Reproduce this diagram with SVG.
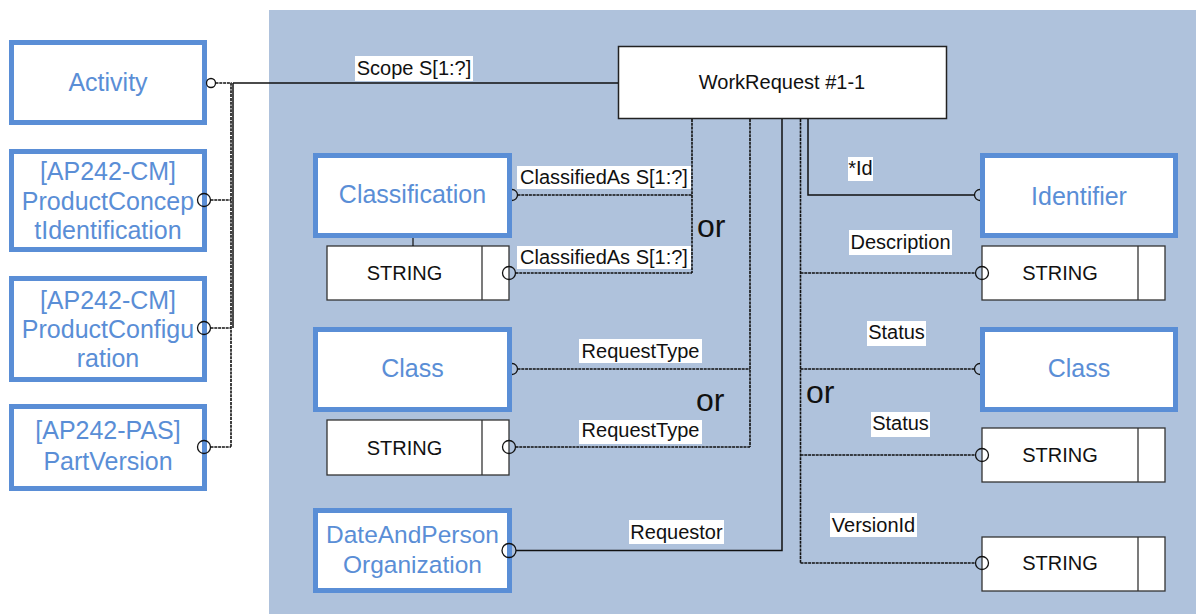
<svg xmlns="http://www.w3.org/2000/svg" width="1196" height="614" viewBox="0 0 1196 614">
<style>
.bg{fill:#afc2dc}
.ent{fill:#fff;stroke:#5a8ed6;stroke-width:5}
.wr{fill:#fff;stroke:#222;stroke-width:1.5}
.str{fill:#fff;stroke:#333;stroke-width:1.3}
.bt{font-family:"Liberation Sans",Arial,sans-serif;font-size:25px;fill:#5a8ed6;text-anchor:middle}
.kt{font-family:"Liberation Sans",Arial,sans-serif;font-size:20px;fill:#111;text-anchor:middle}
.ort{font-family:"Liberation Sans",Arial,sans-serif;font-size:32px;fill:#111}
.lb{fill:#fff}
.sol{fill:none;stroke:#111;stroke-width:1.5}
.dsh{fill:none;stroke:#111;stroke-width:1.6;stroke-dasharray:3 0.8}
.cir{fill:none;stroke:#111;stroke-width:1.3}
</style>
<rect class="bg" x="269" y="10" width="927" height="604"/>

<g id="activity"><rect class="ent" x="11.5" y="42.5" width="193" height="80"/><text class="bt" x="108" y="91">Activity</text></g>
<g id="pci"><rect class="ent" x="11.5" y="151.5" width="193" height="98"/><text class="bt" x="108" y="180">[AP242-CM]</text><text class="bt" x="108" y="209.5">ProductConcep</text><text class="bt" x="108" y="239">tIdentification</text></g>
<g id="pconf"><rect class="ent" x="11.5" y="278.5" width="193" height="101"/><text class="bt" x="108" y="309">[AP242-CM]</text><text class="bt" x="108" y="338">ProductConfigu</text><text class="bt" x="108" y="367">ration</text></g>
<g id="partversion"><rect class="ent" x="11.5" y="406.5" width="193" height="82"/><text class="bt" x="108" y="439">[AP242-PAS]</text><text class="bt" x="108" y="470">PartVersion</text></g>

<g id="workrequest"><rect class="wr" x="618.5" y="46.5" width="328" height="72"/><text class="kt" x="782" y="89">WorkRequest #1-1</text></g>

<g id="classification"><rect class="ent" x="315.5" y="155.5" width="194" height="80"/><text class="bt" x="412.5" y="203">Classification</text></g>
<g id="string-cls"><rect class="str" x="327" y="246" width="182" height="54"/><line class="str" x1="482" y1="246" x2="482" y2="300"/><text class="kt" x="404.5" y="280">STRING</text></g>
<g id="class-left"><rect class="ent" x="315.5" y="329.5" width="194" height="80"/><text class="bt" x="412.5" y="377">Class</text></g>
<g id="string-rt"><rect class="str" x="327" y="420" width="182" height="55"/><line class="str" x1="482" y1="420" x2="482" y2="475"/><text class="kt" x="404.5" y="455">STRING</text></g>
<g id="dapo"><rect class="ent" x="315.5" y="510.5" width="194" height="80"/><text class="bt" x="412.5" y="543" style="font-size:24.5px">DateAndPerson</text><text class="bt" x="412.5" y="573" style="font-size:24.5px">Organization</text></g>

<g id="identifier"><rect class="ent" x="982.5" y="155.5" width="193" height="80"/><text class="bt" x="1079" y="205">Identifier</text></g>
<g id="string-desc"><rect class="str" x="982" y="246" width="183" height="54"/><line class="str" x1="1138" y1="246" x2="1138" y2="300"/><text class="kt" x="1060" y="280">STRING</text></g>
<g id="class-right"><rect class="ent" x="982.5" y="329.5" width="193" height="80"/><text class="bt" x="1079" y="377">Class</text></g>
<g id="string-status"><rect class="str" x="982" y="428" width="183" height="54"/><line class="str" x1="1138" y1="428" x2="1138" y2="482"/><text class="kt" x="1060" y="462">STRING</text></g>
<g id="string-version"><rect class="str" x="982" y="537" width="183" height="54"/><line class="str" x1="1138" y1="537" x2="1138" y2="591"/><text class="kt" x="1060" y="570">STRING</text></g>

<g id="connectors">
<path class="dsh" d="M215.5,83H231V447M210.5,200H231M210.5,328H231M210.5,447H231"/>
<path class="sol" d="M233,83V328M233,83H618"/>
<circle class="cir" cx="211" cy="83" r="4.5"/>
<circle class="cir" cx="204" cy="200" r="6.5"/>
<circle class="cir" cx="204" cy="328" r="6.5"/>
<circle class="cir" cx="204" cy="447" r="6.5"/>
<path class="dsh" d="M692,119V273M517.5,195H692M515.5,273H692"/>
<path class="cir" d="M512,189.5A5.5,5.5 0 0 1 512,200.5"/>
<circle class="cir" cx="509" cy="273" r="6.5"/>
<line class="sol" x1="413" y1="238" x2="413" y2="246" style="stroke-width:1.2"/>
<path class="dsh" d="M750,119V447M517.5,369H750M515.5,447H750"/>
<path class="cir" d="M512,363.5A5.5,5.5 0 0 1 512,374.5"/>
<circle class="cir" cx="509" cy="447" r="6.5"/>
<path class="sol" d="M782,119V550.5H516"/>
<circle class="cir" cx="509" cy="550.5" r="7"/>
<path class="sol" d="M808,119V195H974.5"/>
<path class="cir" d="M980,189.5A5.5,5.5 0 0 0 980,200.5"/>
<path class="dsh" d="M800.5,119V563M800.5,273H975.5M800.5,369H974.5M800.5,455H975.5M800.5,563H975.5"/>
<circle class="cir" cx="982" cy="273" r="6.5"/>
<path class="cir" d="M980,363.5A5.5,5.5 0 0 0 980,374.5"/>
<circle class="cir" cx="982" cy="455" r="6.5"/>
<circle class="cir" cx="982" cy="563" r="6.5"/>
<rect class="lb" x="355" y="56" width="118" height="25"/><text class="kt" x="414" y="75">Scope S[1:?]</text>
<rect class="lb" x="517" y="166" width="174" height="23"/><text class="kt" x="604" y="184">ClassifiedAs S[1:?]</text>
<rect class="lb" x="517" y="246" width="174" height="23"/><text class="kt" x="604" y="264">ClassifiedAs S[1:?]</text>
<rect class="lb" x="579" y="339" width="123" height="24"/><text class="kt" x="640.5" y="358">RequestType</text>
<rect class="lb" x="579" y="420" width="123" height="24"/><text class="kt" x="640.5" y="437">RequestType</text>
<rect class="lb" x="629" y="520" width="95" height="24"/><text class="kt" x="676.5" y="539">Requestor</text>
<rect class="lb" x="848" y="157" width="25" height="24"/><text class="kt" x="860.5" y="175">*Id</text>
<rect class="lb" x="849" y="230" width="103" height="25"/><text class="kt" x="900.5" y="249">Description</text>
<rect class="lb" x="867" y="321" width="59" height="25"/><text class="kt" x="896.5" y="339">Status</text>
<rect class="lb" x="871" y="412" width="59" height="25"/><text class="kt" x="900.5" y="430">Status</text>
<rect class="lb" x="830" y="513" width="87" height="24"/><text class="kt" x="873.5" y="532">VersionId</text>
<text class="ort" x="697" y="237">or</text>
<text class="ort" x="696" y="411">or</text>
<text class="ort" x="806" y="403">or</text>
</g>
</svg>
